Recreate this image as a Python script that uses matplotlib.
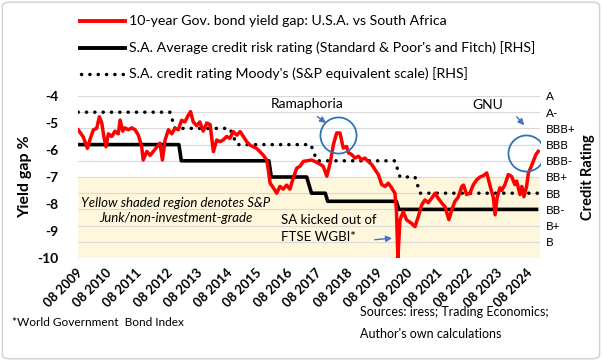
import matplotlib.pyplot as plt
from matplotlib.patches import FancyBboxPatch

# --- data (time in decimal years) ---
gap_t = [2009.53, 2009.69, 2009.83, 2009.92, 2010.03, 2010.14, 2010.23, 2010.31, 2010.38, 2010.45,
         2010.53, 2010.64, 2010.75, 2010.86, 2010.92, 2011.01, 2011.08, 2011.19, 2011.31, 2011.42,
         2011.53, 2011.64, 2011.69, 2011.81, 2011.92, 2012.03, 2012.14, 2012.25, 2012.33, 2012.42,
         2012.53, 2012.64, 2012.75, 2012.86, 2012.97, 2013.08, 2013.19, 2013.27, 2013.36, 2013.47,
         2013.58, 2013.69, 2013.81, 2013.92, 2014.03, 2014.14, 2014.25, 2014.36, 2014.47, 2014.58,
         2014.69, 2014.81, 2014.92, 2015.03, 2015.14, 2015.25, 2015.36, 2015.47, 2015.58, 2015.69,
         2015.81, 2015.86, 2015.92, 2016.03, 2016.14, 2016.25, 2016.36, 2016.47, 2016.58, 2016.69,
         2016.81, 2016.92, 2017.03, 2017.31, 2017.53, 2017.69, 2017.81, 2017.92, 2018.03, 2018.14,
         2018.25, 2018.36, 2018.47, 2018.53, 2018.64, 2018.75, 2018.86, 2018.97, 2019.08, 2019.19,
         2019.31, 2019.42, 2019.53, 2019.64, 2019.75, 2019.86, 2019.97, 2020.08, 2020.13, 2020.18,
         2020.25, 2020.36, 2020.47, 2020.64, 2020.75, 2020.86, 2020.97, 2021.08, 2021.19, 2021.31,
         2021.42, 2021.53, 2021.64, 2021.75, 2021.88, 2021.98, 2022.08, 2022.19, 2022.31, 2022.37,
         2022.47, 2022.58, 2022.69, 2022.81, 2022.92, 2023.03, 2023.14, 2023.19, 2023.27, 2023.36,
         2023.42, 2023.49, 2023.58, 2023.64, 2023.75, 2023.86, 2023.97, 2024.08, 2024.14, 2024.25,
         2024.31, 2024.38, 2024.47, 2024.53, 2024.61, 2024.69, 2024.78, 2024.86]
gap_v = [-5.26, -5.51, -5.94, -5.60, -5.25, -5.20, -4.77, -5.00, -5.51, -5.88,
         -5.40, -5.50, -5.30, -5.40, -4.89, -5.30, -5.18, -5.25, -5.18, -5.25,
         -5.45, -5.88, -6.37, -6.05, -6.20, -6.05, -5.90, -5.75, -6.37, -5.63,
         -5.25, -5.40, -5.20, -5.25, -4.90, -4.96, -4.72, -4.58, -4.96, -5.10,
         -4.96, -5.30, -5.00, -5.06, -6.06, -5.63, -5.69, -5.63, -5.50, -5.57,
         -5.32, -5.45, -5.32, -5.50, -5.69, -5.82, -5.88, -5.94, -6.06, -6.19,
         -6.37, -6.74, -7.23, -7.40, -7.60, -7.35, -7.45, -7.30, -7.45, -7.04,
         -6.67, -6.60, -6.42, -6.37, -6.49, -6.60, -6.97, -6.50, -5.80, -5.37,
         -5.37, -5.93, -5.87, -6.10, -6.17, -6.30, -6.23, -6.36, -6.30, -6.42,
         -6.54, -6.73, -6.91, -7.28, -7.35, -7.23, -7.40, -7.60, -8.20, -10.0,
         -8.59, -8.28, -8.59, -8.72, -8.84, -8.47, -8.04, -7.85, -7.95, -7.78,
         -7.60, -7.80, -7.96, -8.10, -8.58, -8.20, -7.90, -7.75, -7.35, -7.30,
         -7.65, -7.60, -7.30, -7.10, -7.00, -6.95, -6.85, -7.05, -7.40, -7.75,
         -8.40, -7.75, -7.40, -7.50, -7.28, -6.91, -6.98, -7.28, -7.15, -7.65,
         -7.35, -7.73, -7.35, -6.85, -6.65, -6.42, -6.17, -6.05]

# S&P / Fitch average rating (1 = B ... 10 = A)
sp_t = [2009.52, 2012.88, 2012.96, 2015.88, 2015.96, 2017.14, 2017.30, 2017.76, 2017.84,
        2020.13, 2020.21, 2024.86]
sp_v = [7, 7, 6, 6, 5, 5, 4, 4, 3.5, 3.5, 3, 3]

# Moody's on S&P equivalent scale
moody_t = [2009.52, 2012.58, 2012.75, 2014.58, 2014.81, 2017.28, 2017.48, 2020.08, 2020.25,
           2020.75, 2020.92, 2024.86]
moody_v = [9, 9, 8, 8, 7, 7, 6, 6, 5, 5, 4, 4]

rating_labels = ['', 'B', 'B+', 'BB-', 'BB', 'BB+', 'BBB-', 'BBB', 'BBB+', 'A-', 'A']
year_ticks = [2009.583 + k for k in range(16)]
year_labels = ['08 %d' % (2009 + k) for k in range(16)]
gap_ticks = [-10, -9, -8, -7, -6, -5, -4]

plt.rcParams['font.family'] = ['Lato', 'DejaVu Sans']

fig = plt.figure(figsize=(6.02, 3.61), dpi=100)
ax = fig.add_axes([78 / 602, 1 - 258 / 361, 462 / 602, 162 / 361])
ax2 = ax.twinx()
ax.set_zorder(2)
ax2.set_zorder(1)
ax.patch.set_visible(False)

dots = dict(color='black', lw=2.5, dashes=(0.05, 2.35), dash_capstyle='round')

# right axis: grid, junk band, rating lines
ax2.axhspan(0, 5, color='#FFF7DC', zorder=0.5, lw=0)
ax2.set_ylim(0, 10)
ax2.set_yticks(range(11))
ax2.set_yticklabels(rating_labels, fontsize=8.5)
ax2.grid(axis='y', color='#D9D9D9', lw=0.8)
ax2.plot(sp_t, sp_v, color='black', lw=2.6, solid_capstyle='butt')
ax2.plot(moody_t, moody_v, **dots)
ax2.set_ylabel('Credit Rating', fontsize=10.5, fontweight='bold', labelpad=4)

# left axis: yield gap
ax.plot(gap_t, gap_v, color='#FF0000', lw=2.5, solid_joinstyle='round')
ax.set_ylim(-10, -4)
ax.set_yticks(gap_ticks)
ax.set_yticklabels([str(v) for v in gap_ticks], fontsize=10, fontweight='bold')
ax.set_xlim(2009.517, 2024.917)
ax.set_xticks(year_ticks)
ax.set_xticklabels(year_labels, fontsize=9.4, fontweight='bold', rotation=45,
                   ha='right', va='center', rotation_mode='anchor')
ax.set_ylabel('Yield gap %', fontsize=11.5, fontweight='bold', labelpad=4)

for a in (ax, ax2):
    for s in a.spines.values():
        s.set_visible(False)
    a.tick_params(length=0)
ax.tick_params(axis='x', pad=9)
ax.tick_params(axis='y', pad=14)
ax2.tick_params(axis='y', pad=4)

# annotations
blue = '#4472C4'
ring = '#2E75B6'
ax.plot([2018.19], [-5.46], marker='o', ms=26, mfc='none', mec=ring, mew=1.3)
ax.plot([2024.45], [-6.11], marker='o', ms=26, mfc='none', mec=ring, mew=1.3)
ax.text(2017.15, -4.30, 'Ramaphoria', fontsize=10, ha='center', va='center')
ax.annotate('', xy=(2017.86, -5.06), xytext=(2017.42, -4.70),
            arrowprops=dict(arrowstyle='-|>', color=blue, lw=1.0, mutation_scale=9))
ax.text(2023.18, -4.35, 'GNU', fontsize=10, ha='center', va='center')
ax.annotate('', xy=(2024.45, -5.16), xytext=(2024.08, -4.69),
            arrowprops=dict(arrowstyle='-|>', color=blue, lw=1.0, mutation_scale=9))
ax.text(2016.28, -8.91, 'SA kicked out of\nFTSE WGBI*', fontsize=9.5, ha='left', va='center',
        linespacing=1.5)
ax.annotate('', xy=(2020.08, -9.26), xytext=(2019.32, -9.33),
            arrowprops=dict(arrowstyle='-|>', color=blue, lw=1.0, mutation_scale=9))
ax.text(2012.78, -8.24, 'Yellow shaded region denotes S&P\nJunk/non-investment-grade',
        fontsize=9.5, style='italic', ha='center', va='center', linespacing=1.35)

# legend drawn by hand at the top
fig.add_artist(plt.Line2D([80 / 602, 125 / 602], [1 - 21 / 361] * 2, color='#FF0000', lw=2.8,
                          transform=fig.transFigure))
fig.add_artist(plt.Line2D([80 / 602, 125 / 602], [1 - 48 / 361] * 2, color='black', lw=2.8,
                          transform=fig.transFigure))
fig.add_artist(plt.Line2D([81 / 602, 125 / 602], [1 - 74 / 361] * 2,
                          transform=fig.transFigure, **dots))
legend_text = ['10-year Gov. bond yield gap: U.S.A. vs South Africa',
               "S.A. Average credit risk rating (Standard & Poor's and Fitch) [RHS]",
               "S.A. credit rating Moody's (S&P equivalent scale) [RHS]"]
for txt, yy in zip(legend_text, [21, 48, 74]):
    fig.text(129 / 602, 1 - yy / 361, txt, fontsize=10.2, va='center', ha='left')

fig.text(12 / 602, 1 - 323 / 361, '*World Government  Bond Index', fontsize=8.6, va='center')
fig.text(360 / 602, 1 - 312 / 361, 'Sources: iress; Trading Economics;', fontsize=9, va='center')
fig.text(360 / 602, 1 - 334 / 361, "Author's own calculations", fontsize=9, va='center')

fig.patches.append(FancyBboxPatch((0.004, 0.006), 0.992, 0.988, transform=fig.transFigure,
                                  boxstyle='round,pad=0,rounding_size=0.012',
                                  fill=False, ec='#D0D0D0', lw=1.0))

fig.savefig('out.png', dpi=100)
